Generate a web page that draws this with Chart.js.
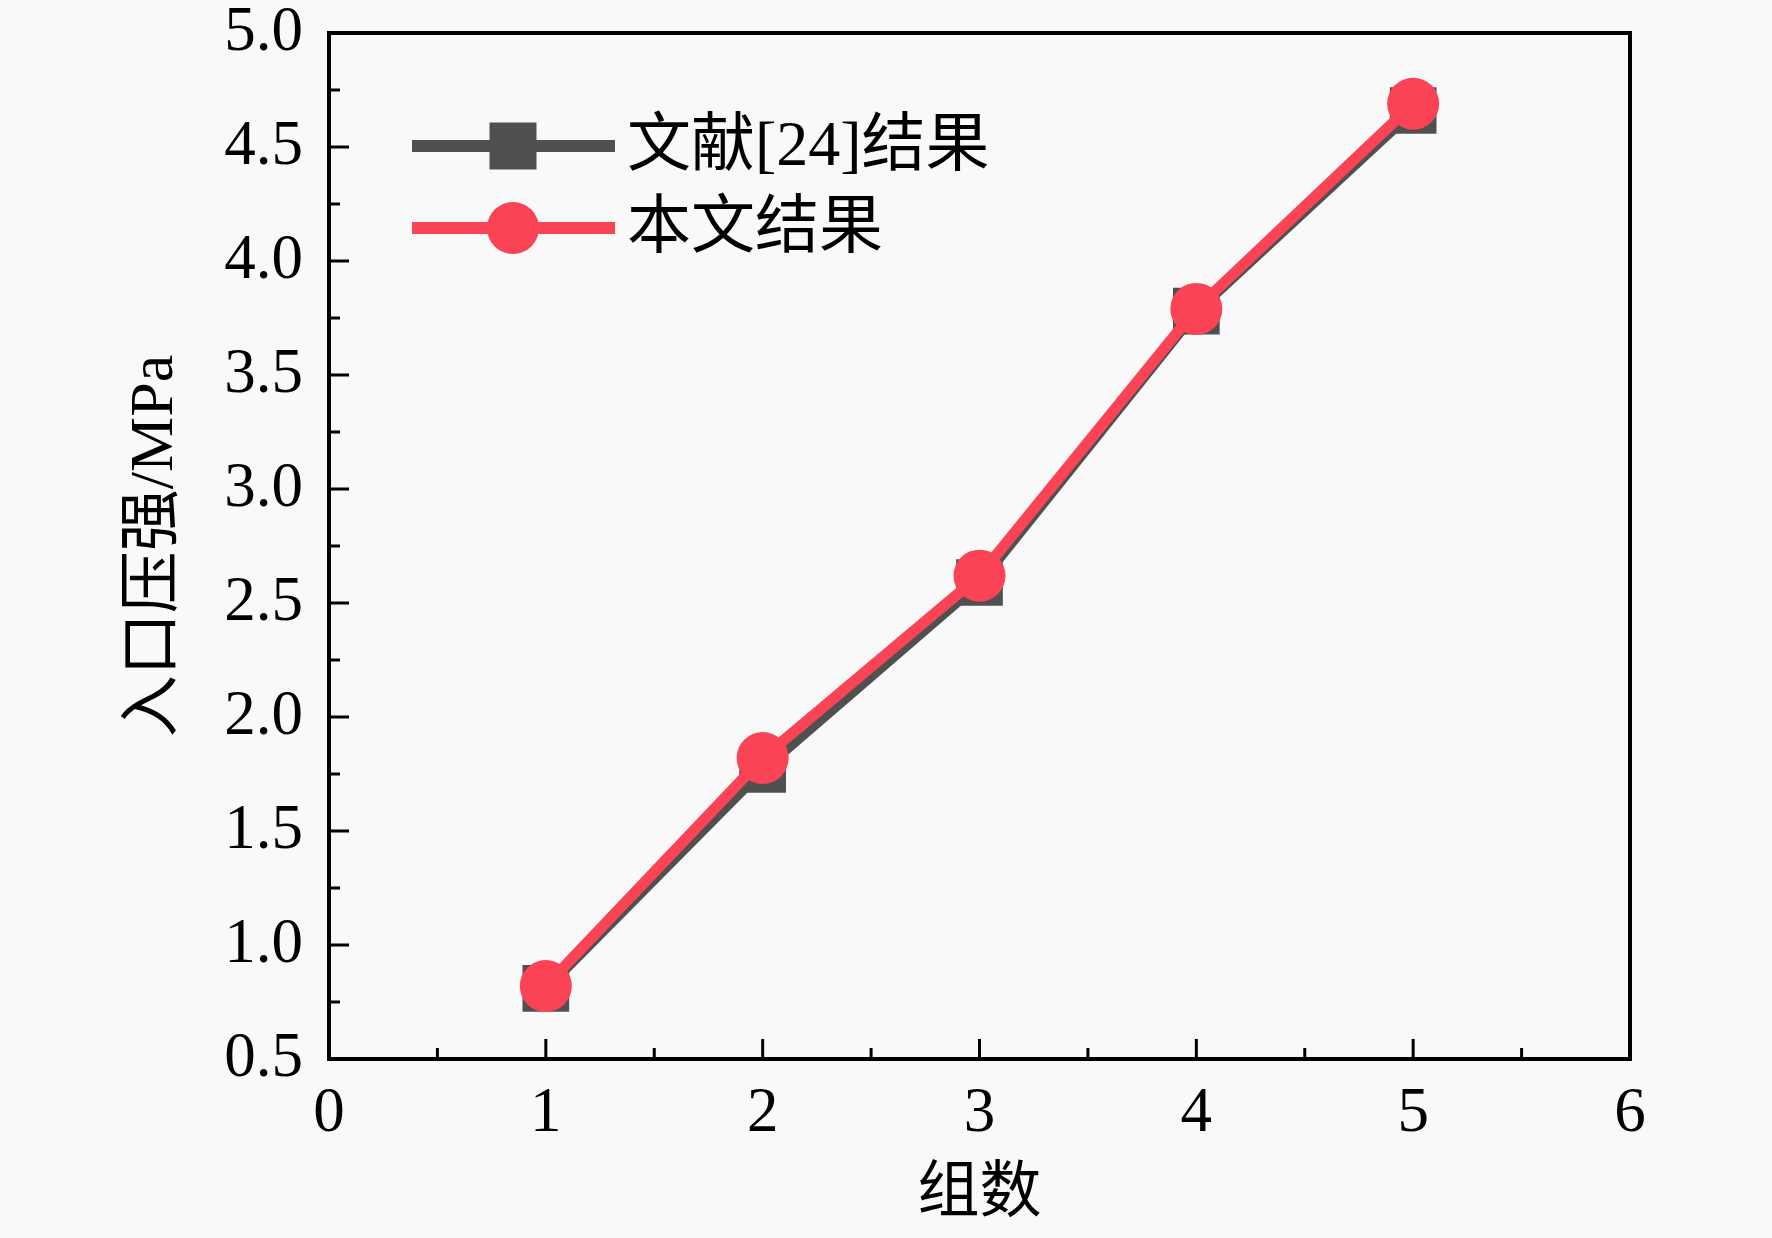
<!DOCTYPE html>
<html>
<head>
<meta charset="utf-8">
<script src="https://cdn.jsdelivr.net/npm/chart.js@4.4.1/dist/chart.umd.min.js"></script>
<style>
html,body{margin:0;padding:0;background:#f9f9f9;}
#wrap{width:1772px;height:1238px;}
</style>
</head>
<body>
<div id="wrap"><canvas id="c" width="1772" height="1238"></canvas></div>
<script>
const groups = [1, 2, 3, 4, 5];
const ref24Values = [0.81, 1.77, 2.59, 3.78, 4.66];
const oursValues = [0.82, 1.82, 2.62, 3.79, 4.69];
const seriesNames = ['文献[24]结果', '本文结果'];
const xTitle = '组数';
const yTitle = '入口压强/MPa';

const FONT = '"Liberation Serif", "Times New Roman", "Noto Sans CJK SC", serif';
const GRAY = '#505050';
const RED = '#fa4456';

const bgPlugin = {
  id: 'bg',
  beforeDraw(chart) {
    const ctx = chart.ctx;
    ctx.save();
    ctx.fillStyle = '#f9f9f9';
    ctx.fillRect(0, 0, chart.width, chart.height);
    ctx.restore();
  }
};

const framePlugin = {
  id: 'frame',
  beforeDatasetsDraw(chart) {
    const {ctx, chartArea: a, scales: {x, y}} = chart;
    ctx.save();
    ctx.strokeStyle = '#000';
    ctx.lineWidth = 3;
    for (let v = 0; v <= 6.0001; v += 0.5) {
      const px = x.getPixelForValue(v);
      const major = Math.abs(v - Math.round(v)) < 1e-6;
      const len = major ? 20 : 11;
      ctx.beginPath();
      ctx.moveTo(px, a.bottom);
      ctx.lineTo(px, a.bottom - len);
      ctx.stroke();
    }
    for (let v = 0.5; v <= 5.0001; v += 0.25) {
      const py = y.getPixelForValue(v);
      const major = Math.abs(v * 2 - Math.round(v * 2)) < 1e-6;
      const len = major ? 20 : 11;
      ctx.beginPath();
      ctx.moveTo(a.left, py);
      ctx.lineTo(a.left + len, py);
      ctx.stroke();
    }
    ctx.lineWidth = 4;
    ctx.strokeRect(a.left, a.top, a.right - a.left, a.bottom - a.top);
    ctx.restore();
  }
};

const legendPlugin = {
  id: 'customLegend',
  afterDraw(chart) {
    const ctx = chart.ctx;
    const rows = [146, 228];
    const x0 = 412, x1 = 615, xm = 513, tx = 627;
    ctx.save();
    chart.data.datasets.forEach((ds, i) => {
      const yy = rows[i];
      ctx.strokeStyle = ds.borderColor;
      ctx.lineWidth = 12;
      ctx.beginPath();
      ctx.moveTo(x0, yy);
      ctx.lineTo(x1, yy);
      ctx.stroke();
      ctx.fillStyle = ds.pointBackgroundColor;
      if (ds.pointStyle === 'rect') {
        ctx.fillRect(xm - 23.5, yy - 23.5, 47, 47);
      } else {
        ctx.beginPath();
        ctx.arc(xm, yy, 26, 0, Math.PI * 2);
        ctx.fill();
      }
      ctx.fillStyle = '#000';
      ctx.font = '64px ' + FONT;
      ctx.textBaseline = 'middle';
      ctx.textAlign = 'left';
      ctx.fillText(ds.label, tx, yy + 2);
    });
    ctx.restore();
  }
};

new Chart(document.getElementById('c'), {
  type: 'line',
  data: {
    datasets: [
      {
        label: seriesNames[0],
        data: groups.map((g, i) => ({x: g, y: ref24Values[i]})),
        borderColor: GRAY,
        backgroundColor: GRAY,
        pointBackgroundColor: GRAY,
        pointBorderColor: GRAY,
        borderWidth: 11,
        pointStyle: 'rect',
        pointRadius: 33,
        pointBorderWidth: 0,
        order: 2
      },
      {
        label: seriesNames[1],
        data: groups.map((g, i) => ({x: g, y: oursValues[i]})),
        borderColor: RED,
        backgroundColor: RED,
        pointBackgroundColor: RED,
        pointBorderColor: RED,
        borderWidth: 11,
        pointStyle: 'circle',
        pointRadius: 26,
        pointBorderWidth: 0,
        order: 1
      }
    ]
  },
  options: {
    responsive: false,
    animation: false,
    devicePixelRatio: 1,
    layout: {padding: {top: 31, right: 142, left: 0, bottom: 0}},
    plugins: {legend: {display: false}, tooltip: {enabled: false}},
    elements: {line: {tension: 0}},
    scales: {
      x: {
        type: 'linear',
        min: 0, max: 6,
        grid: {display: false, drawTicks: false, tickLength: 0},
        border: {display: false},
        ticks: {stepSize: 1, color: '#000', padding: 18, font: {family: FONT, size: 63}},
        title: {display: true, text: xTitle, color: '#000', padding: {top: 0, bottom: 5}, font: {family: FONT, size: 62}},
        afterFit(s) { s.height = 1238 - 1059; s.paddingLeft = 0; s.paddingRight = 0; }
      },
      y: {
        type: 'linear',
        min: 0.5, max: 5.0,
        grid: {display: false, drawTicks: false, tickLength: 0},
        border: {display: false},
        ticks: {stepSize: 0.5, color: '#000', padding: 26, font: {family: FONT, size: 63}, callback: v => Number(v).toFixed(1)},
        title: {display: true, text: yTitle, color: '#000', padding: {top: 119, bottom: 0}, font: {family: FONT, size: 62}},
        afterFit(s) { s.width = 329; s.paddingTop = 0; s.paddingBottom = 0; }
      }
    }
  },
  plugins: [bgPlugin, framePlugin, legendPlugin]
});
</script>
</body>
</html>
